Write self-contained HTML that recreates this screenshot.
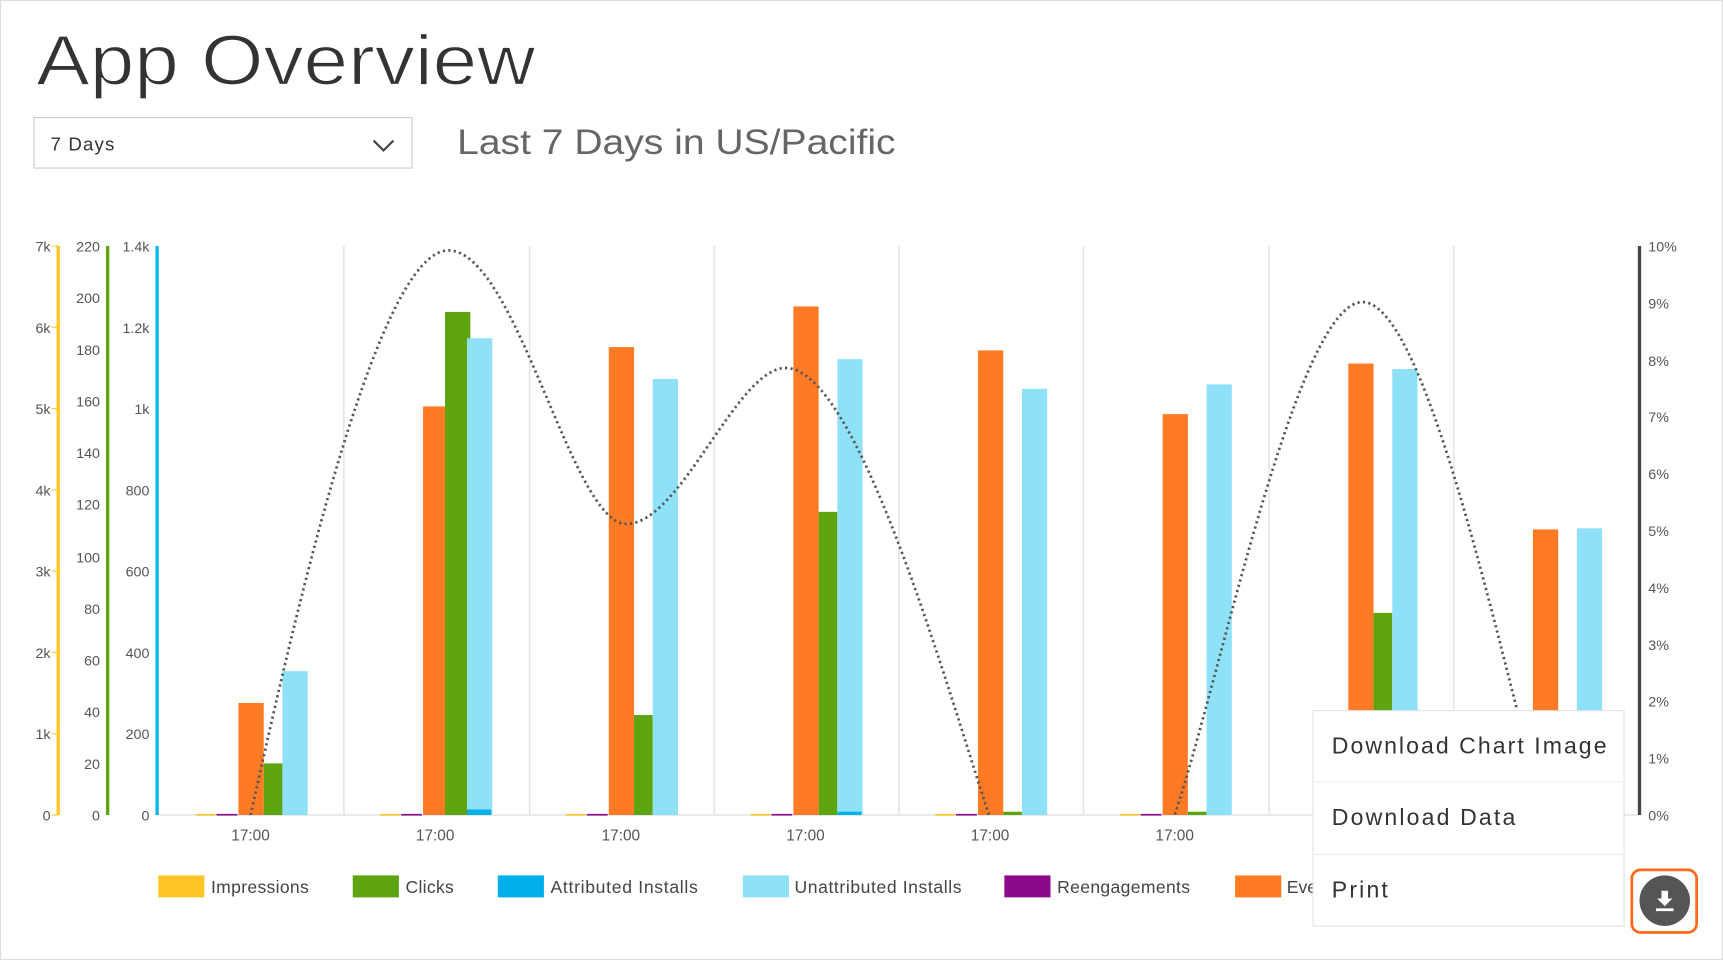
<!DOCTYPE html>
<html><head><meta charset="utf-8"><style>
html,body{margin:0;padding:0;background:#fff;}
svg{display:block;}
text{font-family:"Liberation Sans",sans-serif;}
</style></head><body>
<svg width="1723" height="960" viewBox="0 0 1568 874" preserveAspectRatio="none" xmlns="http://www.w3.org/2000/svg">
<rect x="0.5" y="0.5" width="1567" height="873" fill="#fff" stroke="#ddd"/>
<text x="33" y="77" font-size="64" fill="#333" textLength="454" lengthAdjust="spacingAndGlyphs" stroke="#fff" stroke-width="1.2">App Overview</text>
<rect x="31" y="107" width="344" height="46" fill="#fff" stroke="#ccc"/>
<text x="46" y="137" font-size="17" fill="#333" textLength="58">7 Days</text>
<path d="M340 128 L349 137 L358 128" fill="none" stroke="#444" stroke-width="2"/>
<text x="416" y="140" font-size="32" fill="#666" textLength="399" lengthAdjust="spacingAndGlyphs">Last 7 Days in US/Pacific</text>

<g stroke="#e6e6e6" stroke-width="1.5">
<line x1="313" y1="224" x2="313" y2="742"/><line x1="482" y1="224" x2="482" y2="742"/>
<line x1="650" y1="224" x2="650" y2="742"/><line x1="818" y1="224" x2="818" y2="742"/>
<line x1="986" y1="224" x2="986" y2="742"/><line x1="1155" y1="224" x2="1155" y2="742"/>
<line x1="1323" y1="224" x2="1323" y2="742"/>
<line x1="145" y1="742" x2="1490" y2="742"/>
</g>

<g>
<rect x="178" y="741" width="18" height="1.5" fill="#ffc425"/><rect x="197" y="741" width="19" height="1.5" fill="#8b0a8b"/>
<rect x="217" y="640" width="23" height="102" fill="#ff7a24"/><rect x="240" y="695" width="17" height="47" fill="#5da40e"/><rect x="257" y="611" width="23" height="131" fill="#8fe1f8"/>
<rect x="346" y="741" width="18" height="1.5" fill="#ffc425"/><rect x="365" y="741" width="19" height="1.5" fill="#8b0a8b"/>
<rect x="385" y="370" width="23" height="372" fill="#ff7a24"/><rect x="405" y="284" width="23" height="458" fill="#5da40e"/><rect x="425" y="308" width="23" height="434" fill="#8fe1f8"/><rect x="425" y="737" width="22" height="5" fill="#00b0e8"/>
<rect x="515" y="741" width="18" height="1.5" fill="#ffc425"/><rect x="534" y="741" width="19" height="1.5" fill="#8b0a8b"/>
<rect x="554" y="316" width="23" height="426" fill="#ff7a24"/><rect x="577" y="651" width="17" height="91" fill="#5da40e"/><rect x="594" y="345" width="23" height="397" fill="#8fe1f8"/>
<rect x="683" y="741" width="18" height="1.5" fill="#ffc425"/><rect x="702" y="741" width="19" height="1.5" fill="#8b0a8b"/>
<rect x="722" y="279" width="23" height="463" fill="#ff7a24"/><rect x="745" y="466" width="17" height="276" fill="#5da40e"/><rect x="762" y="327" width="23" height="415" fill="#8fe1f8"/><rect x="762" y="739" width="22" height="3" fill="#00b0e8"/>
<rect x="851" y="741" width="18" height="1.5" fill="#ffc425"/><rect x="870" y="741" width="19" height="1.5" fill="#8b0a8b"/>
<rect x="890" y="319" width="23" height="423" fill="#ff7a24"/><rect x="913" y="739" width="17" height="3" fill="#5da40e"/><rect x="930" y="354" width="23" height="388" fill="#8fe1f8"/>
<rect x="1019" y="741" width="18" height="1.5" fill="#ffc425"/><rect x="1038" y="741" width="19" height="1.5" fill="#8b0a8b"/>
<rect x="1058" y="377" width="23" height="365" fill="#ff7a24"/><rect x="1081" y="739" width="17" height="3" fill="#5da40e"/><rect x="1098" y="350" width="23" height="392" fill="#8fe1f8"/>
<rect x="1227" y="331" width="23" height="411" fill="#ff7a24"/><rect x="1250" y="558" width="17" height="184" fill="#5da40e"/><rect x="1267" y="336" width="23" height="406" fill="#8fe1f8"/>
<rect x="1395" y="482" width="23" height="260" fill="#ff7a24"/><rect x="1435" y="481" width="23" height="261" fill="#8fe1f8"/>
</g>

<clipPath id="cp"><rect x="145" y="200" width="1345" height="542"/></clipPath>
<path clip-path="url(#cp)" d="M228 742 C260 600 340 228 408 228 C470 228 520 477 570 477 C620 477 670 335 715 335 C780 335 860 620 900 742 C920 800 1050 800 1069 742 C1110 620 1180 275 1240 275 C1300 275 1370 620 1406 742" fill="none" stroke="#555" stroke-width="2.5" stroke-dasharray="2 3"/>

<g font-size="13" fill="#555">
<line x1="53" y1="224" x2="53" y2="742" stroke="#ffc425" stroke-width="3"/>
<g stroke="#ffc425"><line x1="47" y1="224" x2="53" y2="224"/><line x1="47" y1="298" x2="53" y2="298"/><line x1="47" y1="372" x2="53" y2="372"/><line x1="47" y1="446" x2="53" y2="446"/><line x1="47" y1="520" x2="53" y2="520"/><line x1="47" y1="594" x2="53" y2="594"/><line x1="47" y1="668" x2="53" y2="668"/><line x1="47" y1="742" x2="53" y2="742"/></g>
<g text-anchor="end"><text x="46" y="229">7k</text><text x="46" y="303">6k</text><text x="46" y="377">5k</text><text x="46" y="451">4k</text><text x="46" y="525">3k</text><text x="46" y="599">2k</text><text x="46" y="673">1k</text><text x="46" y="747">0</text></g>

<line x1="98" y1="224" x2="98" y2="742" stroke="#5da40e" stroke-width="3"/>
<g text-anchor="end">
<text x="91" y="229">220</text><text x="91" y="276">200</text><text x="91" y="323">180</text><text x="91" y="370">160</text><text x="91" y="417">140</text><text x="91" y="464">120</text><text x="91" y="512">100</text><text x="91" y="559">80</text><text x="91" y="606">60</text><text x="91" y="653">40</text><text x="91" y="700">20</text><text x="91" y="747">0</text></g>

<line x1="143" y1="224" x2="143" y2="742" stroke="#00b8ec" stroke-width="3"/>
<g text-anchor="end"><text x="136" y="229">1.4k</text><text x="136" y="303">1.2k</text><text x="136" y="377">1k</text><text x="136" y="451">800</text><text x="136" y="525">600</text><text x="136" y="599">400</text><text x="136" y="673">200</text><text x="136" y="747">0</text></g>

<line x1="1492" y1="224" x2="1492" y2="742" stroke="#444" stroke-width="3"/>
<g><text x="1500" y="229">10%</text><text x="1500" y="281">9%</text><text x="1500" y="333">8%</text><text x="1500" y="384">7%</text><text x="1500" y="436">6%</text><text x="1500" y="488">5%</text><text x="1500" y="540">4%</text><text x="1500" y="592">3%</text><text x="1500" y="643">2%</text><text x="1500" y="695">1%</text><text x="1500" y="747">0%</text></g>

<g text-anchor="middle" font-size="14"><text x="228" y="765">17:00</text><text x="396" y="765">17:00</text><text x="565" y="765">17:00</text><text x="733" y="765">17:00</text><text x="901" y="765">17:00</text><text x="1069" y="765">17:00</text></g>
</g>

<g font-size="16" fill="#444">
<rect x="144" y="797" width="42" height="20" fill="#ffc425"/><text x="192" y="813" textLength="89">Impressions</text>
<rect x="321" y="797" width="42" height="20" fill="#5da40e"/><text x="369" y="813" textLength="44">Clicks</text>
<rect x="453" y="797" width="42" height="20" fill="#00b0e8"/><text x="501" y="813" textLength="134">Attributed Installs</text>
<rect x="676" y="797" width="42" height="20" fill="#8fe1f8"/><text x="723" y="813" textLength="152">Unattributed Installs</text>
<rect x="914" y="797" width="42" height="20" fill="#8b0a8b"/><text x="962" y="813" textLength="121">Reengagements</text>
<rect x="1124" y="797" width="42" height="20" fill="#ff7a24"/><text x="1171" y="813">Events</text>
</g>

<rect x="1195" y="647" width="283" height="196" fill="#fff" stroke="#e2e2e2"/>
<line x1="1196" y1="712" x2="1477" y2="712" stroke="#eee"/>
<line x1="1196" y1="778" x2="1477" y2="778" stroke="#eee"/>
<g font-size="21" fill="#333"><text x="1212" y="686" textLength="250">Download Chart Image</text><text x="1212" y="751" textLength="167">Download Data</text><text x="1212" y="817" textLength="51">Print</text></g>

<rect x="1485" y="792" width="59" height="57" rx="8" fill="none" stroke="#ff6a1a" stroke-width="2.5"/>
<circle cx="1515" cy="820" r="23" fill="#555"/>
<path d="M1512 811 h6 v7 h4 l-7 7 l-7 -7 h4 z" fill="#fff"/>
<rect x="1507" y="827" width="16" height="2.5" fill="#fff"/>
</svg>
</body></html>
